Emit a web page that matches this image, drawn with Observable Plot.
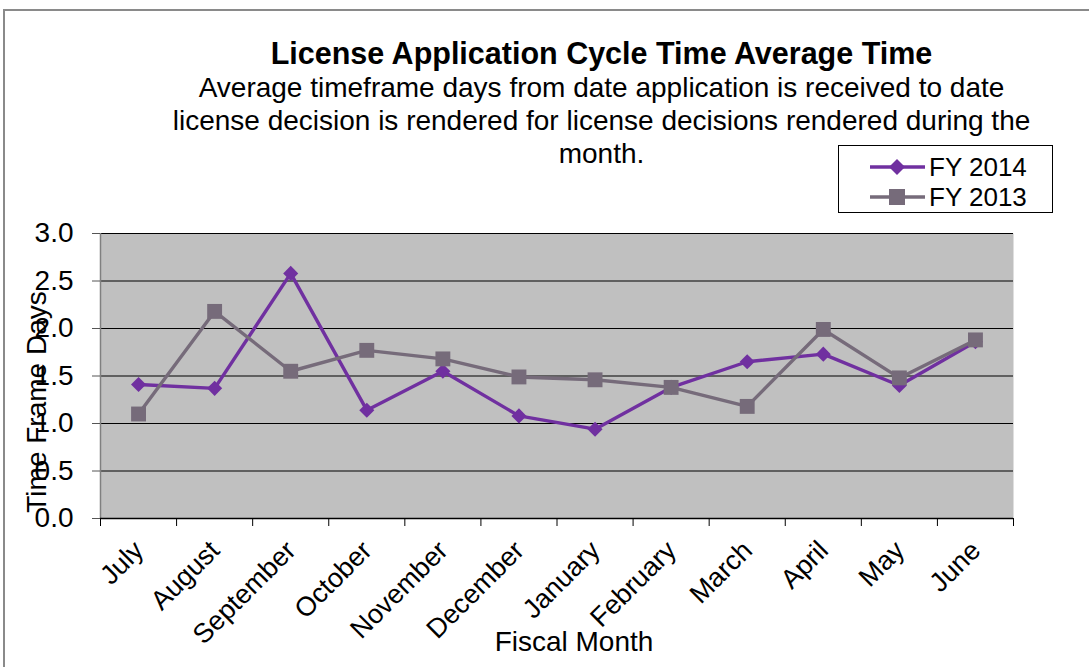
<!DOCTYPE html>
<html>
<head>
<meta charset="utf-8">
<script src="https://cdn.jsdelivr.net/npm/d3@7"></script>
<script src="https://cdn.jsdelivr.net/npm/@observablehq/plot@0.6"></script>
<style>
  html, body { margin: 0; padding: 0; background: #fff; }
  #wrap { position: relative; width: 1089px; height: 667px; overflow: hidden; font-family: "Liberation Sans", Arial, sans-serif; color: #000; }
  #frame { position: absolute; left: 3px; top: 9px; width: 1200px; height: 800px; border: 2px solid #8a8a8a; box-sizing: border-box; }
  #chart { position: absolute; left: 0; top: 0; }
  .t { position: absolute; white-space: nowrap; text-align: center; }
  #title { left: 0; width: 1203px; top: 36px; font-size: 30.5px; font-weight: bold; line-height: 34px; }
  #subtitle { left: 0; width: 1203px; top: 71px; font-size: 28px; line-height: 33px; }
  #ylab { left: 37px; top: 402px; font-size: 28px; transform: translate(-50%, -50%) rotate(-90deg); }
  #xlab { left: 574px; top: 626px; font-size: 28px; transform: translateX(-50%); }
  #legend { position: absolute; left: 838px; top: 145px; width: 215px; height: 68px; border: 1px solid #000; box-sizing: border-box; background: #fff; }
  .li { position: absolute; left: 30px; height: 30px; display: flex; align-items: center; font-size: 26px; }
  .li svg { margin-right: 2px; }
</style>
</head>
<body>
<div id="wrap">
  <div id="frame"></div>
  <div id="chart"></div>
  <div class="t" id="title"></div>
  <div class="t" id="subtitle"></div>
  <div class="t" id="ylab"></div>
  <div class="t" id="xlab"></div>
  <div id="legend"></div>
</div>
<script>
const titleText = "License Application Cycle Time Average Time";
const subtitleLines = [
  "Average timeframe days from date application is received to date",
  "license decision is rendered for license decisions rendered during the",
  "month."
];
const yLabel = "Time Frame Days";
const xLabel = "Fiscal Month";

const months = ["July", "August", "September", "October", "November", "December",
                "January", "February", "March", "April", "May", "June"];
const fy2014 = [1.41, 1.37, 2.58, 1.14, 1.55, 1.08, 0.94, 1.38, 1.65, 1.73, 1.40, 1.86];
const fy2013 = [1.10, 2.18, 1.55, 1.77, 1.68, 1.49, 1.46, 1.38, 1.18, 1.99, 1.48, 1.88];
const seriesNames = ["FY 2014", "FY 2013"];
const yTicks = [0, 0.5, 1.0, 1.5, 2.0, 2.5, 3.0];

const colors = {"FY 2014": "#7030a0", "FY 2013": "#766b7a"};
const symbols = {"FY 2014": "diamond2", "FY 2013": "square"};
const radii = {"FY 2014": 6.8, "FY 2013": 8.4};

const rows = [];
months.forEach((m, i) => rows.push({series: "FY 2014", idx: i, month: m, value: fy2014[i]}));
months.forEach((m, i) => rows.push({series: "FY 2013", idx: i, month: m, value: fy2013[i]}));

document.getElementById("title").textContent = titleText;
document.getElementById("subtitle").innerHTML = subtitleLines.map(s => `<div>${s}</div>`).join("");
document.getElementById("ylab").textContent = yLabel;
document.getElementById("xlab").textContent = xLabel;

const mx = (d) => d.idx + 0.5;

const marks = [
  Plot.frame({fill: "#c0c0c0", stroke: "none"}),
  Plot.gridY({ticks: yTicks, stroke: "#000", strokeOpacity: 1, strokeWidth: 1}),
  Plot.ruleX([0], {stroke: "#808080", strokeWidth: 1.5}),
  Plot.axisY({ticks: yTicks, tickSize: 8, tickPadding: 19, tickFormat: d3.format(".1f"),
              fontSize: 28, label: null, stroke: "#555"}),
  Plot.axisX({ticks: d3.range(0, months.length + 1), tickSize: 8, tickFormat: () => "",
              label: null, stroke: "#000"}),
  Plot.ruleY([0], {stroke: "#000", strokeWidth: 1.5}),
  Plot.text(months, {x: (d, i) => i + 0.5, y: () => 0, text: d => d, rotate: -45,
                     textAnchor: "end", lineAnchor: "top", dx: -7, dy: 20, fontSize: 27, fill: "#000"})
];
for (const s of seriesNames) {
  const data = rows.filter(r => r.series === s);
  marks.push(Plot.line(data, {x: mx, y: "value", stroke: colors[s], strokeWidth: 3.4}));
  marks.push(Plot.dot(data, {x: mx, y: "value", symbol: symbols[s], r: radii[s], fill: colors[s], stroke: "none"}));
}

const chart = Plot.plot({
  width: 1089,
  height: 667,
  marginLeft: 100,
  marginRight: 76,
  marginTop: 233,
  marginBottom: 149,
  style: {background: "transparent", fontFamily: "Liberation Sans, Arial, sans-serif", color: "#000", overflow: "visible"},
  x: {type: "linear", domain: [0, months.length], axis: null},
  y: {type: "linear", domain: [0, 3], axis: null},
  marks
});
document.getElementById("chart").appendChild(chart);

// legend
const legend = document.getElementById("legend");
seriesNames.forEach((s, k) => {
  const item = document.createElement("div");
  item.className = "li";
  item.style.top = (6 + k * 30) + "px";
  const sym = s === "FY 2014"
    ? `<path d="M28,4 L36,12 L28,20 L20,12 Z" fill="${colors[s]}"/>`
    : `<rect x="20" y="4" width="16" height="16" fill="${colors[s]}"/>`;
  item.innerHTML = `<svg width="58" height="24"><line x1="1" y1="12" x2="56" y2="12" stroke="${colors[s]}" stroke-width="3.4"/>${sym}</svg><span>${s}</span>`;
  legend.appendChild(item);
});
</script>
</body>
</html>
